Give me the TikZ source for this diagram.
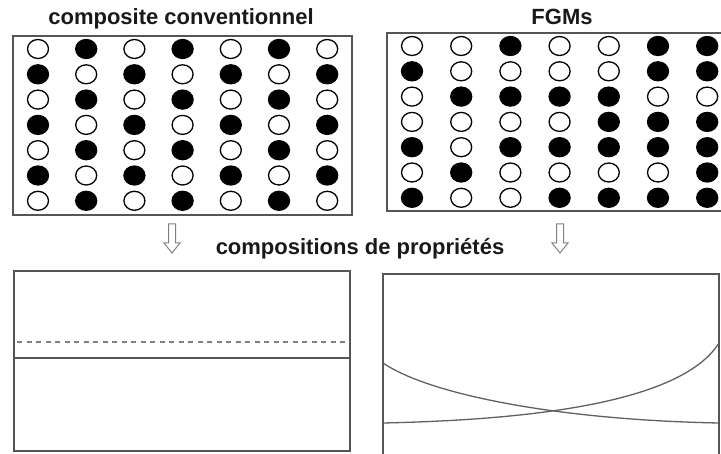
\documentclass[tikz,border=0pt]{standalone}
\usepackage{fontspec}
\setmainfont{Liberation Sans}
\colorlet{dot0}{white}
\colorlet{dot1}{black}
\definecolor{boxgray}{HTML}{555555}
\definecolor{linegray}{HTML}{606060}
\definecolor{arrgray}{HTML}{808080}
\tikzset{
  title/.style={font=\fontsize{22}{26}\selectfont\bfseries, text=black!90, inner sep=0pt, anchor=base},
  frame/.style={draw=boxgray, line width=1.6pt},
  dotc/.style={draw=black, line width=1.3pt},
  hollowarrow/.style={draw=arrgray, line width=1pt, fill=white},
  curve/.style={draw=linegray, line width=1.3pt},
}
\begin{document}
\begin{tikzpicture}[x=1pt,y=-1pt]
\useasboundingbox (0,0) rectangle (721,454);
% titles
\node[title] (t1) at (181,25) {composite conventionnel};
\node[title] (t2) at (562,25) {FGMs};
\node[title] (t3) at (360,255) {compositions de propriétés};
% top-left box
\draw[frame] (13,36) rectangle (352,215);
\foreach \r in {0,...,6}{
  \foreach \c in {0,...,6}{
    \pgfmathtruncatemacro{\v}{mod(\r+\c,2)}
    \path[dotc, fill=dot\v] ({38+48.2*\c},{49+25.3*\r}) ellipse [x radius=10.5, y radius=9.5];
  }
}
% top-right box
\draw[frame] (721,33) -- (387,33) -- (387,211) -- (721,211);
\foreach \r/\pat in {0/{0,0,1,0,0,1,1},1/{1,0,0,0,0,1,1},2/{0,1,1,1,1,0,0},3/{0,0,0,0,1,1,1},4/{1,0,1,1,1,1,1},5/{0,1,0,0,0,0,1},6/{1,0,0,1,1,1,1}}{
  \foreach \v [count=\c from 0] in \pat {
    \path[dotc, fill=dot\v] ({412+49.2*\c},{46+25.3*\r}) ellipse [x radius=10.5, y radius=9.5];
  }
}
% hollow arrows
\foreach \ax in {172,560}{
  \draw[hollowarrow] (\ax-3.5,224) -- (\ax+3.5,224) -- (\ax+3.5,243) -- (\ax+8,243) -- (\ax,253) -- (\ax-8,243) -- (\ax-3.5,243) -- cycle;
}
% bottom-left box
\draw[frame] (14,271) rectangle (350,451);
\draw[draw=arrgray, line width=1.3pt, dash pattern=on 5pt off 4.5pt] (17,342) -- (348,342);
\draw[frame] (14,358) -- (350,358);
% bottom-right box
\draw[frame] (383,455) -- (383,274) -- (719,274) -- (719,455);
\draw[curve] (383,363) .. controls (430,395) and (560,420) .. (719,423);
\draw[curve] (383,423) .. controls (520,420) and (680,405) .. (719,343);
\end{tikzpicture}
\end{document}
